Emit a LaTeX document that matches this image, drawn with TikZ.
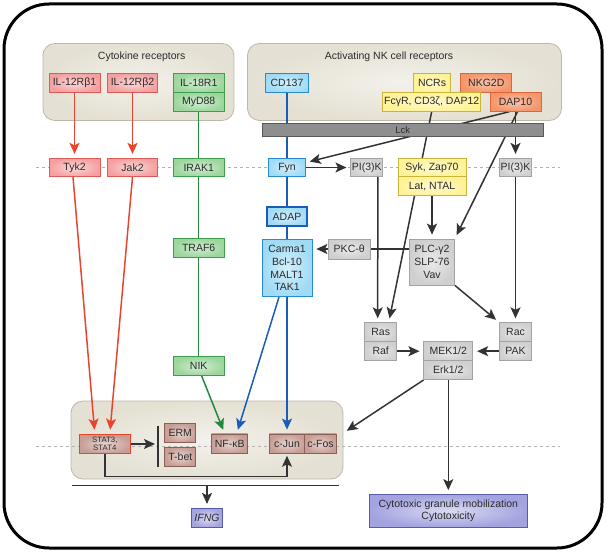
\documentclass[tikz,border=0pt]{standalone}
\usepackage{fontspec}
\setmainfont{Liberation Sans}
\usetikzlibrary{positioning,calc,arrows.meta}

\pgfdeclarelayer{grp}
\pgfdeclarelayer{bg}
\pgfsetlayers{grp,bg,main}

\definecolor{grpfill}{HTML}{E4E0D3}
\definecolor{grpline}{HTML}{BDB8AA}
\definecolor{redfill}{HTML}{F4A0A0}
\definecolor{rededge}{HTML}{E05A55}
\definecolor{redline}{HTML}{E8452F}
\definecolor{grnfill}{HTML}{9CD69C}
\definecolor{grnedge}{HTML}{3E9E50}
\definecolor{grnline}{HTML}{1F8A3E}
\definecolor{blufill}{HTML}{9FDBF6}
\definecolor{bluedge}{HTML}{2A8AD0}
\definecolor{bluline}{HTML}{1A5CB8}
\definecolor{ylwfill}{HTML}{FFF296}
\definecolor{ylwedge}{HTML}{C9B53A}
\definecolor{orgfill}{HTML}{F5956A}
\definecolor{orgedge}{HTML}{D9663C}
\definecolor{gryfill}{HTML}{CFCFCF}
\definecolor{gryedge}{HTML}{A3A3A3}
\definecolor{lckfill}{HTML}{8E8E8E}
\definecolor{brnfill}{HTML}{C79E95}
\definecolor{brnedge}{HTML}{8C5F55}
\definecolor{purfill}{HTML}{A3A3E0}
\definecolor{puredge}{HTML}{5A5AAA}
\definecolor{arrline}{HTML}{333333}
\definecolor{txtcol}{HTML}{2B2B2B}

\tikzset{
  box/.style={font=\fontsize{10.5}{12.7}\selectfont, text=txtcol, inner sep=0pt,
    minimum height=19pt, line width=0.7pt, align=center},
  redbox/.style={box, draw=rededge, inner color=redfill!40, outer color=redfill},
  grnbox/.style={box, draw=grnedge, inner color=grnfill!45, outer color=grnfill},
  blubox/.style={box, draw=bluedge, inner color=blufill!45, outer color=blufill},
  ylwbox/.style={box, draw=ylwedge, inner color=ylwfill!45, outer color=ylwfill},
  orgbox/.style={box, draw=orgedge, inner color=orgfill!55, outer color=orgfill},
  grybox/.style={box, draw=gryedge, inner color=gryfill!45, outer color=gryfill},
  brnbox/.style={box, draw=brnedge, inner color=brnfill!45, outer color=brnfill},
  purbox/.style={box, draw=puredge, inner color=purfill!40, outer color=purfill},
  grpbox/.style={draw=grpline, line width=0.8pt, rounded corners=12pt,
    inner color=grpfill!45, outer color=grpfill},
  ttl/.style={font=\fontsize{10.5}{12}\selectfont, text=txtcol, inner sep=0pt},
  arr/.style={line width=1.5pt, -{Stealth[length=11pt,width=10pt,inset=2.5pt]}, shorten >=4pt},
  blkarr/.style={arr, draw=arrline},
  redarr/.style={arr, draw=redline},
  grnarr/.style={arr, draw=grnline},
  bluarr/.style={arr, draw=bluline},
  grnlink/.style={line width=1.2pt, draw=grnline},
  blulink/.style={line width=1.3pt, draw=bluline},
  blklink/.style={line width=1.5pt, draw=arrline},
  level/.style={gray!60, line width=0.8pt, dash pattern=on 3pt off 3pt}
}

\begin{document}
\begin{tikzpicture}[x=1pt,y=-1pt]
\useasboundingbox (0,0) rectangle (607,551);
\draw[line width=3pt, rounded corners=45pt] (4,4) rectangle (602,548);

\begin{pgfonlayer}{grp}
\node[grpbox, minimum width=191pt, minimum height=77pt] (cytgrp) at (138.4,82) {};
\node[grpbox, minimum width=314pt, minimum height=77pt] (nkgrp) at (404.5,82) {};
\node[grpbox, minimum width=272pt, minimum height=78pt] (nucgrp) at (207,440) {};
\draw[level] (36,167.5) -- (560,167.5);
\draw[level] (36,446.7) -- (560,446.7);
\end{pgfonlayer}

\node[ttl] (cyttl) at (141.7,57) {Cytokine receptors};
\node[ttl] (nkttl) at (389,57) {Activating NK cell receptors};

\node[redbox, minimum width=51pt] (il12b1) at (74.5,82.8) {IL-12Rβ1};
\node[redbox, minimum width=50pt] (il12b2) at (132.5,82.8) {IL-12Rβ2};
\node[grnbox, minimum width=51pt] (il18r) at (198.7,82.8) {IL-18R1};
\node[grnbox, minimum width=51pt] (myd88) at (198.7,101.8) {MyD88};
\node[blubox, minimum width=43pt] (cd137) at (287,82.8) {CD137};
\node[ylwbox, minimum width=37pt] (ncrs) at (432,82.8) {NCRs};
\node[orgbox, minimum width=51pt] (nkg2d) at (486.3,82.8) {NKG2D};
\node[ylwbox, minimum width=98pt] (fcgr) at (431.7,101.8) {FcγR, CD3ζ, DAP12};
\node[orgbox, minimum width=51pt] (dap10) at (515.5,101.8) {DAP10};
\node[box, draw=gray!70!black, fill=lckfill, minimum width=281pt, minimum height=13.5pt,
  font=\fontsize{9.5}{10}\selectfont] (lck) at (402.8,130) {Lck};

\node[redbox, minimum width=51pt, minimum height=18.5pt] (tyk2) at (74.5,167.5) {Tyk2};
\node[redbox, minimum width=50pt, minimum height=18.5pt] (jak2) at (132.5,167.5) {Jak2};
\node[grnbox, minimum width=51pt, minimum height=18.5pt] (irak1) at (198.7,167.5) {IRAK1};
\node[blubox, minimum width=37pt, minimum height=18.5pt] (fyn) at (287,167.5) {Fyn};
\node[grybox, minimum width=32pt, minimum height=18.5pt] (pi3k1) at (366.8,167.5) {PI(3)K};
\node[ylwbox, minimum width=68pt, minimum height=18.5pt] (syk) at (432,167.5) {Syk, Zap70};
\node[ylwbox, minimum width=68pt] (lat) at (432,186.2) {Lat, NTAL};
\node[grybox, minimum width=32pt, minimum height=18.5pt] (pi3k2) at (515.5,167.5) {PI(3)K};

\node[blubox, minimum width=40pt, draw=bluline, line width=1.3pt] (adap) at (287,216.5) {ADAP};
\node[blubox, minimum width=50pt, minimum height=57.5pt] (carma) at (287,268)
  {Carma1\\Bcl-10\\MALT1\\TAK1};
\node[grybox, minimum width=42pt, minimum height=20pt] (pkc) at (349.2,249) {PKC-θ};
\node[grybox, minimum width=45pt, minimum height=46pt] (plc) at (432,262)
  {PLC-γ2\\SLP-76\\Vav};
\node[grnbox, minimum width=51pt] (traf6) at (198.7,247.8) {TRAF6};
\node[grnbox, minimum width=51pt] (nik) at (198.7,366.2) {NIK};

\node[grybox, minimum width=32pt] (ras) at (380.7,332.2) {Ras};
\node[grybox, minimum width=32pt] (raf) at (380.7,351.2) {Raf};
\node[grybox, minimum width=49pt] (mek) at (448.3,351.2) {MEK1/2};
\node[grybox, minimum width=49pt] (erk) at (448.3,370.2) {Erk1/2};
\node[grybox, minimum width=32pt] (rac) at (515.5,332.2) {Rac};
\node[grybox, minimum width=32pt] (pak) at (515.5,351.2) {PAK};

\node[brnbox, draw=redline, line width=1.6pt, minimum width=51pt, minimum height=19pt,
  font=\fontsize{7.8}{8.6}\selectfont] (stat) at (104.8,444) {STAT3,\\STAT4};
\node[brnbox, minimum width=31pt] (erm) at (180.3,433.3) {ERM};
\node[brnbox, minimum width=31pt] (tbet) at (180.3,456.8) {T-bet};
\node[brnbox, minimum width=36pt, minimum height=19.5pt] (nfkb) at (229.7,443.7) {NF-κB};
\node[brnbox, minimum width=35.3pt, minimum height=19.5pt] (cjun) at (287,443.7) {c-Jun};
\node[brnbox, minimum width=31.7pt, minimum height=19.5pt] (cfos) at (320.5,443.7) {c-Fos};
\node[purbox, minimum width=31pt, minimum height=19.5pt, font=\fontsize{10.5}{12}\itshape] (ifng) at (207,518) {IFNG};
\node[purbox, minimum width=158pt, minimum height=33pt, font=\fontsize{10.5}{12.5}\selectfont] (cyto) at (448.3,511)
  {Cytotoxic granule mobilization\\Cytotoxicity};

\coordinate (bartop) at (158,425.7);
\coordinate (barbot) at (158,467.3);
\coordinate (loop) at (287,476.3);
\coordinate (nl) at (72.3,485.3);
\coordinate (nr) at (339.3,485.3);

\begin{pgfonlayer}{bg}
\draw[redarr] (il12b1) -- (tyk2);
\draw[redarr] (il12b2) -- (jak2);
\draw[redarr] ([xshift=-1.5pt]tyk2.south) -- ([xshift=-10pt]stat.north);
\draw[redarr] (jak2.south) -- ([xshift=5pt]stat.north);

\draw[grnlink] (myd88) -- (irak1);
\draw[grnlink] (irak1) -- (traf6);
\draw[grnlink] (traf6) -- (nik);
\draw[grnarr] ([xshift=3pt]nik.south) -- ([xshift=-5pt]nfkb.north);

\draw[blulink] (cd137) -- (fyn);
\draw[blulink] (fyn) -- (adap);
\draw[blulink] (adap) -- (carma);
\draw[bluarr] (carma) -- (cjun);
\draw[bluarr] ([xshift=-8pt]carma.south) -- ([xshift=7pt]nfkb.north);

\draw[blkarr] ([xshift=-6pt]dap10.south) -- ([yshift=5pt]fyn.east);
\draw[blkarr] (dap10.south) -- (pi3k2);
\draw[blkarr] ([xshift=2pt]dap10.south) -- (plc.north east);
\draw[blkarr] (fyn) -- (pi3k1);
\draw[blkarr] (fcgr.south) -- ([xshift=8pt]ras.north);
\draw[blkarr] (lat) -- (plc);
\draw[blkarr] ([xshift=11pt]pi3k1.south) -- ([xshift=-3pt]ras.north);
\draw[blklink] ([yshift=13pt]plc.west) -- (pkc.east);
\draw[blkarr] (pkc.west) -- (carma.east |- pkc.west);
\draw[blkarr] (plc.south east) -- (rac.north west);
\draw[blkarr] (pi3k2) -- (rac);
\draw[blkarr] (raf) -- (mek);
\draw[blkarr] (pak) -- (mek);
\draw[blkarr] (erk) -- (cyto);
\draw[blkarr] (erk.south west) -- ([yshift=7pt]nucgrp.east);

\draw[blkarr, shorten >=3pt] (stat) -- (stat.east -| bartop);
\draw[blklink, line width=1.5pt] (bartop) -- (barbot);
\draw[blkarr, shorten >=2pt] (stat.south) -- (stat.south |- loop) -- (loop) -- (cjun.south);
\draw[blklink] (nl) -- (nr);
\draw[blkarr] (ifng.north |- nl) -- (ifng);
\end{pgfonlayer}
\end{tikzpicture}
\end{document}
